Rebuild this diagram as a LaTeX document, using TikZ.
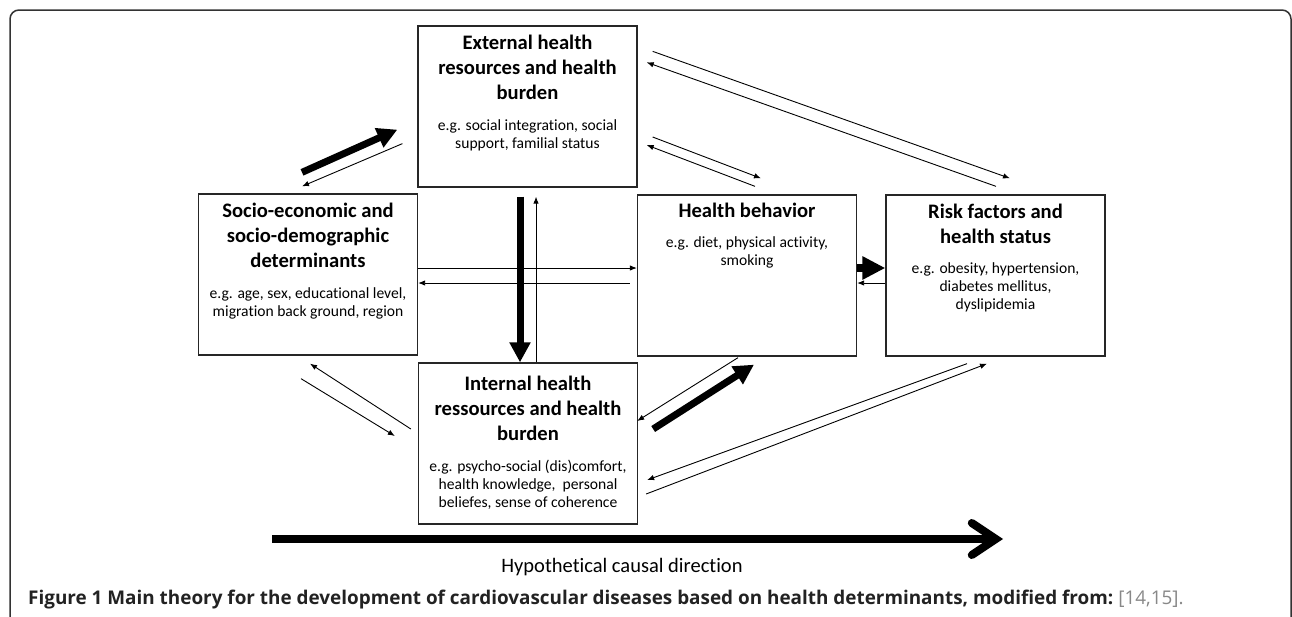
\documentclass[tikz,border=0pt]{standalone}
\usepackage{fontspec}
\setmainfont{Carlito}[Ligatures={NoCommon}]
\newfontfamily\capfont{Open Sans}
\usetikzlibrary{arrows.meta,calc}
\definecolor{frame}{HTML}{333333}
\definecolor{refgray}{HTML}{888888}
\definecolor{captext}{HTML}{222222}
\begin{document}
\begin{tikzpicture}[x=1pt,y=-1pt,
 box/.style={draw=black!85, line width=1.3pt, minimum width=219pt, minimum height=161pt, inner sep=0pt},
 ttl/.style={font=\fontsize{20.6}{25}\selectfont\bfseries, align=center, anchor=north, inner sep=0pt},
 eg/.style={font=\fontsize{15.6}{18}\selectfont, align=center, anchor=north, inner sep=0pt},
 thin/.style={line width=0.9pt, -{Latex[length=7pt,width=5.5pt]}},
 thick/.style={line width=7pt, -{Triangle[length=20pt,width=20pt]}},
]
\useasboundingbox (0,0) rectangle (1292,616);
\begin{scope}
\clip (0,0) rectangle (1292,616);
\draw[frame, line width=1.5pt, rounded corners=9pt] (10,660) -- (10,10) -- (1291,10) -- (1291,660);
\end{scope}

% boxes
\node[box] (ext)  at (527.5,106.5) {};
\node[box] (soc)  at (308,274.5) {};
\node[box] (hb)   at (747,275.5) {};
\node[box] (risk) at (995.5,275.5) {};
\node[box] (int)  at (528,443.5) {};

% texts
\node[ttl] (extT) at (527.5,35) {External health\\resources and health\\burden};
\node[eg]  (extE) at (527.5,119) {e.g. social integration, social\\support, familial status};
\node[ttl] (socT) at (308,203) {Socio-economic and\\socio-demographic\\determinants};
\node[eg]  (socE) at (308,287) {e.g. age, sex, educational level,\\migration back ground, region};
\node[ttl] (hbT)  at (747,203) {Health behavior};
\node[eg]  (hbE)  at (747,236) {e.g. diet, physical activity,\\smoking};
\node[ttl] (riskT) at (995.5,204) {Risk factors and\\health status};
\node[eg]  (riskE) at (995.5,262) {e.g. obesity, hypertension,\\diabetes mellitus,\\dyslipidemia};
\node[ttl] (intT) at (528,376) {Internal health\\ressources and health\\burden};
\node[eg]  (intE) at (528,460) {e.g. psycho-social (dis)comfort,\\health knowledge,\ \ personal\\beliefes, sense of coherence};

% connectors
\draw[thick] ([shift={(-6,-21)}]soc.north) -- ([shift={(-20,-58)}]ext.south west);
\draw[thin]  ([shift={(-15,-44)}]ext.south west) -- ([shift={(-6,-7)}]soc.north);
\draw[thick] ([shift={(-7.5,9)}]ext.south) -- ([shift={(-8,0)}]int.north);
\draw[thin]  ([shift={(8,0)}]int.north) -- ([shift={(8.5,9)}]ext.south);
\draw[thin]  ([shift={(0,-6.5)}]soc.east) -- ([shift={(0,-7.5)}]hb.west);
\draw[thin]  ([shift={(-7,7.5)}]hb.west) -- ([shift={(0,8.5)}]soc.east);
\draw[thin]  ([shift={(15,26)}]ext.north east) -- ([shift={(14.5,-16)}]risk.north);
\draw[thin]  ([shift={(0.5,-8)}]risk.north) -- ([shift={(9,37)}]ext.north east);
\draw[thin]  ([shift={(15,30.5)}]ext.east) -- ([shift={(14,-16)}]hb.north);
\draw[thin]  ([shift={(8,-8)}]hb.north) -- ([shift={(9,38.5)}]ext.east);
\draw[line width=8pt, -{Triangle[length=23pt,width=22pt]}] ([shift={(0,-7.5)}]hb.east) -- ([shift={(0,-7.5)}]risk.west);
\draw[thin]  ([shift={(0,7.5)}]risk.west) -- ([shift={(0,7.5)}]hb.east);
\draw[thin]  ([shift={(-7,-14.5)}]int.west) -- ([shift={(2,8)}]soc.south);
\draw[thin]  ([shift={(-7,23)}]soc.south) -- ([shift={(-23,-7.5)}]int.west);
\draw[thin]  ([shift={(-9,1)}]hb.south) -- ([shift={(-1,-22.5)}]int.east);
\draw[thick] ([shift={(15,-14.5)}]int.east) -- ([shift={(7,8)}]hb.south);
\draw[thin]  ([shift={(-28.5,7)}]risk.south) -- ([shift={(9,36.5)}]int.east);
\draw[thin]  ([shift={(8,50.5)}]int.east) -- ([shift={(-8.5,7)}]risk.south);

% causal direction
\coordinate (c1) at (272,539);
\coordinate (c2) at (1003,539);
\draw[line width=8pt, -{Straight Barb[length=24pt,width=32pt,line cap=round]}] (c1) -- (c2);
\node[font=\fontsize{20.5}{24}\selectfont, inner sep=0pt] (cd) at (622,567) {Hypothetical causal direction};

% caption
\node[anchor=base west, inner sep=0pt, text=captext, font=\capfont\fontsize{18.9}{22}\selectfont] (cap) at (28,604)
 {\bfseries Figure 1 Main theory for the development of cardiovascular diseases based on health determinants, modified from:\mdseries\ \textcolor{refgray}{[14,15].}};
\end{tikzpicture}
\end{document}
